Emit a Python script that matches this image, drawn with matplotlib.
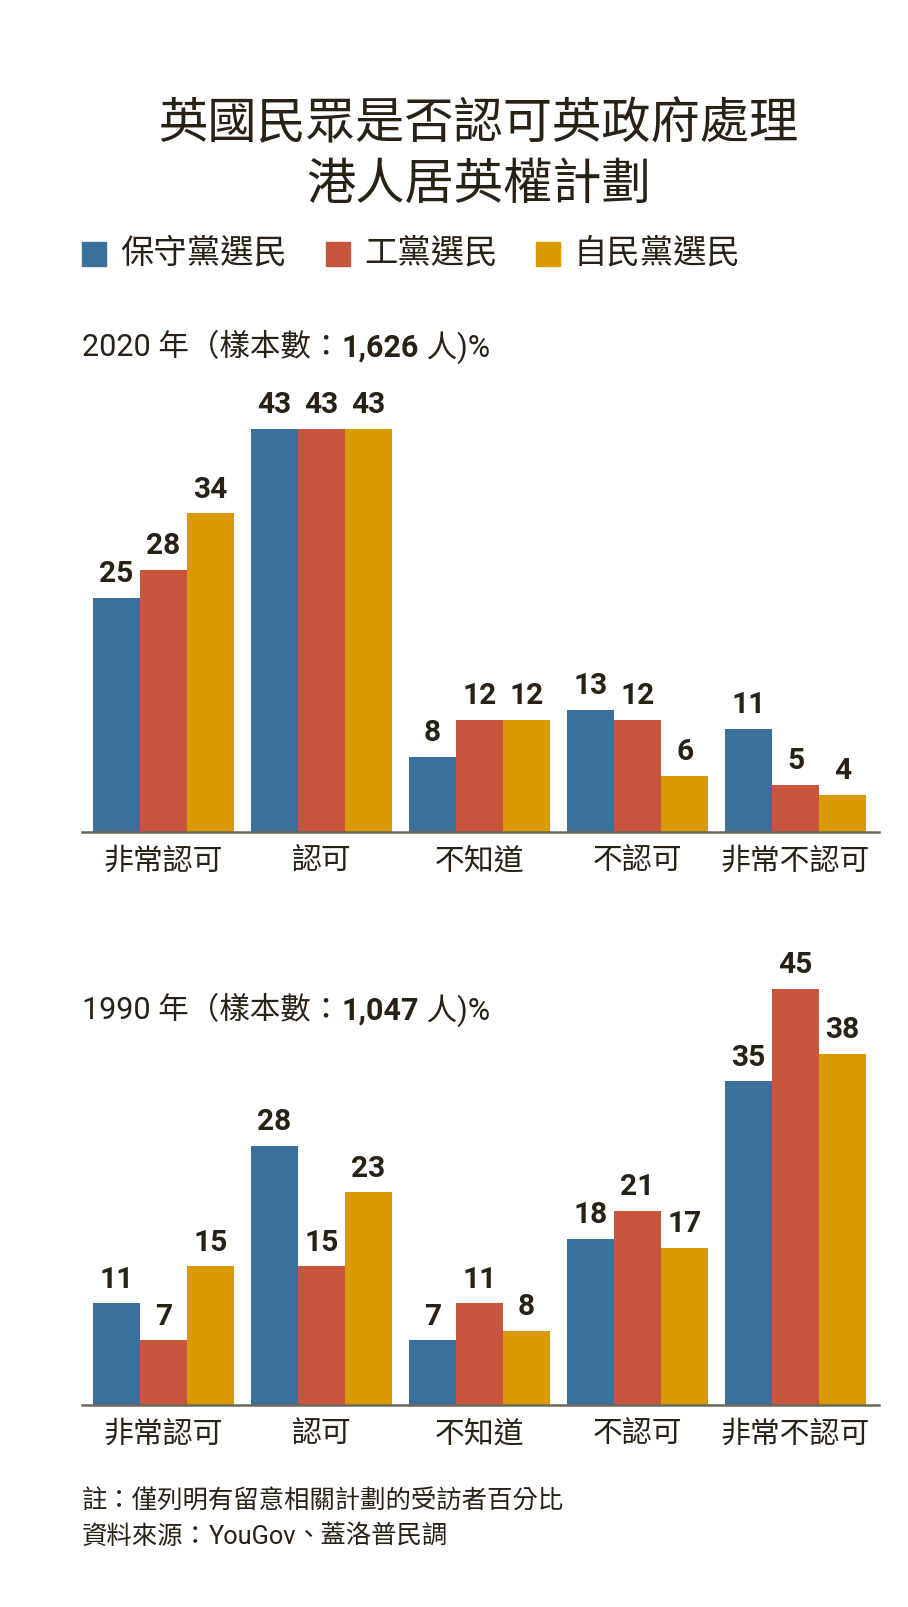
import matplotlib
matplotlib.use("Agg")
import matplotlib.pyplot as plt
from matplotlib.patches import Rectangle
import numpy as np

plt.rcParams['font.family'] = ['Roboto', 'Noto Sans CJK TC', 'DejaVu Sans']

# data
categories = ["非常認可", "認可", "不知道", "不認可", "非常不認可"]
parties = ["保守黨選民", "工黨選民", "自民黨選民"]
con_2020 = [25, 43, 8, 13, 11]
lab_2020 = [28, 43, 12, 12, 5]
lib_2020 = [34, 43, 12, 6, 4]
con_1990 = [11, 28, 7, 18, 35]
lab_1990 = [7, 15, 11, 21, 45]
lib_1990 = [15, 23, 8, 17, 38]

colors = ["#3b6f9c", "#c8553d", "#d99a00"]
ink = "#2a2115"
axis_col = "#6b6858"

W, H = 908, 1607
fig = plt.figure(figsize=(W / 100, H / 100), dpi=100)
fig.patch.set_facecolor("white")


def make_axes(baseline, px_per_unit, ymax=50):
    left, right = 82, 879
    return fig.add_axes([left / W, 1 - baseline / H, (right - left) / W,
                         px_per_unit * ymax / H])


def draw_panel(ax, series):
    x = np.arange(len(categories))
    bw = 0.2975
    for i, vals in enumerate(series):
        xs = x + (i - 1) * bw
        ax.bar(xs, vals, width=bw, color=colors[i], linewidth=0)
        for xi, v in zip(xs, vals):
            ax.annotate(str(v), (xi, v), xytext=(0, 7), textcoords="offset points",
                        ha="center", va="bottom", fontsize=21.5, fontweight="bold",
                        color=ink)
    ax.set_xlim(-0.516, 4.528)
    ax.set_ylim(0, 50)
    for s in ["top", "right", "left"]:
        ax.spines[s].set_visible(False)
    ax.spines["bottom"].set_color(axis_col)
    ax.spines["bottom"].set_linewidth(1.8)
    ax.set_yticks([])
    ax.set_xticks(x)
    ax.set_xticklabels(categories, fontsize=21.5, color=ink)
    ax.tick_params(axis="x", length=0, pad=11)
    ax.set_facecolor("none")


ax1 = make_axes(832, 9.37)
draw_panel(ax1, [con_2020, lab_2020, lib_2020])
ax2 = make_axes(1405, 9.25)
draw_panel(ax2, [con_1990, lab_1990, lib_1990])

# title
fig.text(0.527, 1 - 125 / H, "英國民眾是否認可英政府處理", ha="center", va="center",
         fontsize=35.5, color=ink, fontweight="light")
fig.text(0.527, 1 - 186 / H, "港人居英權計劃", ha="center", va="center",
         fontsize=35.5, color=ink, fontweight="light")

# legend
sq_x = [82, 326, 536]
for i, name in enumerate(parties):
    fig.patches.append(Rectangle((sq_x[i] / W, 1 - (254 + 12) / H), 24 / W, 24 / H,
                                 transform=fig.transFigure, color=colors[i]))
    fig.text((sq_x[i] + 38) / W, 1 - 254 / H, name, va="center", fontsize=24, color=ink)

renderer = fig.canvas.get_renderer()


def text_run(x, y, parts, size):
    for s, w in parts:
        t = fig.text(x / W, 1 - y / H, s, fontsize=size, fontweight=w,
                     va="center", color=ink)
        x += t.get_window_extent(renderer=renderer).width


text_run(82, 348, [("2020 年（樣本數：", "normal"), ("1,626", "bold"), (" 人)%", "normal")], 22)
text_run(82, 1011, [("1990 年（樣本數：", "normal"), ("1,047", "bold"), (" 人)%", "normal")], 22)

# notes
text_run(82, 1502, [("註：僅列明有留意相關計劃的受訪者百分比", "medium")], 18.3)
text_run(82, 1537, [("資料來源：", "medium"), ("YouGov", "normal"), ("、蓋洛普民調", "medium")], 18.3)

fig.savefig("out.png", dpi=100, facecolor="white")
